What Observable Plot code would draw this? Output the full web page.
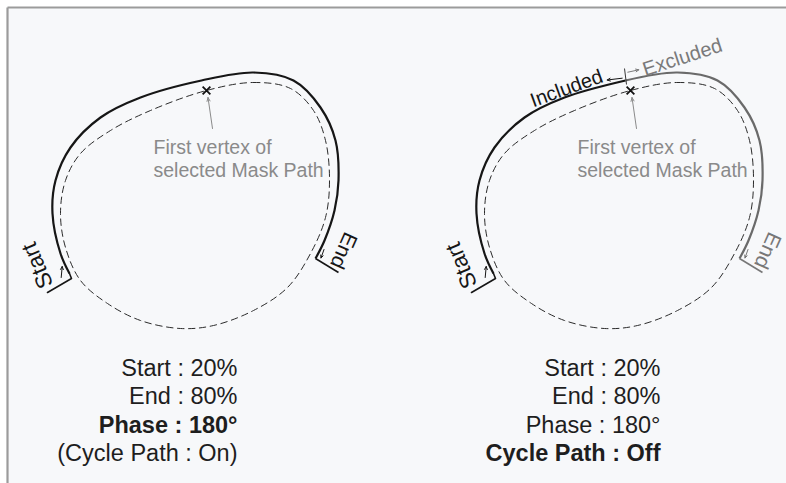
<!DOCTYPE html>
<html>
<head>
<meta charset="utf-8">
<script src="https://cdn.jsdelivr.net/npm/d3@7"></script>
<script src="https://cdn.jsdelivr.net/npm/@observablehq/plot@0.6"></script>
<style>
  html, body { margin: 0; padding: 0; background: #ffffff; overflow: hidden; }
</style>
</head>
<body>
<div id="chart"></div>
<script>
// ---- data (diagram coordinates, left panel; right panel is shifted) ----
const panelShift = [0, 424];

// dashed closed mask path
const maskX = [206, 253, 290, 313, 325, 329, 325, 310, 287, 253, 213, 180, 140, 107, 80, 65, 60, 65, 80, 110, 150];
const maskY = [90, 82, 88, 110, 140, 180, 217, 253, 287, 310, 325, 328, 320, 303, 280, 247, 213, 180, 153, 130, 110];

// solid open path from Start to End
const pathX = [69, 60, 52, 55, 70, 100, 140, 201, 253, 293, 320, 335, 338, 334, 324, 315];
const pathY = [273, 253, 213, 180, 147, 117, 97, 80, 72, 80, 107, 140, 180, 210, 240, 258];
const splitIndex = 7; // first vertex position on solid path (Included / Excluded)

// first vertex cross
const vertexX = [206];
const vertexY = [90];

// start / end brackets
const startBracketX = [69, 71, 47];
const startBracketY = [273, 278, 292];
const endBracketX = [315, 338];
const endBracketY = [258, 272];

// bottom settings
const settingsLeft = ["Start : 20%", "End : 80%", "Phase : 180°", "(Cycle Path : On)"];
const settingsRight = ["Start : 20%", "End : 80%", "Phase : 180°", "Cycle Path : Off"];
const boldLeft = [false, false, true, false];
const boldRight = [false, false, false, true];
const settingsBaseline = [375, 403, 432, 460];
const settingsRightEdge = [237, 660];

// included / excluded labels (right panel)
const incExcLabels = ["Included", "Excluded"];
const incExcX = [566, 682];
const incExcY = [88, 57];
const incExcRot = [-20, -18];

// ---- build tables ----
const mask = panelShift.flatMap((dx, p) => maskX.map((x, i) => ({x: x + dx, y: maskY[i], panel: p})));
const solid = [];
pathX.forEach((x, i) => solid.push({x, y: pathY[i], s: "L"}));
pathX.forEach((x, i) => { if (i <= splitIndex) solid.push({x: x + panelShift[1], y: pathY[i], s: "RI"}); });
pathX.forEach((x, i) => { if (i >= splitIndex) solid.push({x: x + panelShift[1], y: pathY[i], s: "RE"}); });
const solidColor = {L: "#161616", RI: "#161616", RE: "#6a6a6a"};

const crosses = panelShift.map(dx => ({x: vertexX[0] + dx, y: vertexY[0]}));
const pointer = panelShift.map(dx => ({x1: 212 + dx, y1: 128, x2: 207.5 + dx, y2: 97}));
const vertexText = panelShift.map(dx => ({x: 153 + dx, y: 137}));

const startBr = panelShift.flatMap((dx, p) => startBracketX.map((x, i) => ({x: x + dx, y: startBracketY[i], panel: p})));
const endBr = panelShift.map((dx, p) => ({x1: endBracketX[0] + dx, y1: endBracketY[0], x2: endBracketX[1] + dx, y2: endBracketY[1], c: p === 0 ? "#161616" : "#777"}));
const startArrows = panelShift.map(dx => ({x1: 60.7 + dx, y1: 277, x2: 61.7 + dx, y2: 266}));
const endArrows = panelShift.map((dx, p) => ({x1: 323.5 + dx, y1: 249, x2: 320.5 + dx, y2: 257.5, c: p === 0 ? "#161616" : "#777"}));
const startLabels = panelShift.map(dx => ({x: 37 + dx, y: 265, t: "Start"}));
const endLabels = panelShift.map((dx, p) => ({x: 343 + dx, y: 250, t: "End", c: p === 0 ? "#161616" : "#777"}));

const settings = [];
settingsLeft.forEach((t, i) => settings.push({t, x: settingsRightEdge[0], y: settingsBaseline[i], b: boldLeft[i]}));
settingsRight.forEach((t, i) => settings.push({t, x: settingsRightEdge[1], y: settingsBaseline[i], b: boldRight[i]}));

const incExc = incExcLabels.map((t, i) => ({t, x: incExcX[i], y: incExcY[i], r: incExcRot[i], c: i === 0 ? "#161616" : "#7a7a7a"}));
const splitTick = [{x1: 624, y1: 68, x2: 626, y2: 84}];
const incExcArrows = [
  {x1: 621.7, y1: 77.7, x2: 606.7, y2: 79.5, c: "#161616"},
  {x1: 627.3, y1: 71.7, x2: 638.3, y2: 69.3, c: "#7a7a7a"}
];

const frame = [{x1: 7, y1: 7, x2: 786, y2: 7}, {x1: 7, y1: 7, x2: 7, y2: 483}];

const font = "'Liberation Sans', Arial, Helvetica, sans-serif";

const chart = Plot.plot({
  width: 786,
  height: 483,
  margin: 0,
  x: {domain: [0, 786], range: [0, 786], axis: null},
  y: {domain: [0, 483], range: [0, 483], axis: null},
  style: {background: "#ffffff", fontFamily: font},
  marks: [
    Plot.rect([{x1: 8, x2: 786, y1: 8, y2: 483}], {x1: "x1", x2: "x2", y1: "y1", y2: "y2", fill: "#f7f8fa"}),
    Plot.link(frame, {x1: "x1", y1: "y1", x2: "x2", y2: "y2", stroke: "#9b9b9b", strokeWidth: 2.2}),
    // dashed mask path
    Plot.line(mask, {x: "x", y: "y", z: "panel", curve: "catmull-rom-closed", stroke: "#2a2a2a", strokeWidth: 1, strokeDasharray: "6.5,4.5"}),
    // solid path
    Plot.line(solid, {x: "x", y: "y", z: "s", curve: "catmull-rom", stroke: d => solidColor[d.s], strokeWidth: 2.2, strokeLinecap: "butt"}),
    // brackets
    Plot.line(startBr, {x: "x", y: "y", z: "panel", stroke: "#161616", strokeWidth: 1.6, curve: "linear"}),
    Plot.link(endBr, {x1: "x1", y1: "y1", x2: "x2", y2: "y2", stroke: "c", strokeWidth: 1.6}),
    Plot.arrow(startArrows, {x1: "x1", y1: "y1", x2: "x2", y2: "y2", stroke: "#161616", strokeWidth: 1, headLength: 5, headAngle: 50}),
    Plot.arrow(endArrows, {x1: "x1", y1: "y1", x2: "x2", y2: "y2", stroke: "c", strokeWidth: 1, headLength: 5, headAngle: 50}),
    Plot.text(startLabels, {x: "x", y: "y", text: "t", rotate: -113, fontSize: 22.5, fill: "#161616", textAnchor: "middle", lineAnchor: "middle"}),
    Plot.text(endLabels, {x: "x", y: "y", text: "t", rotate: 114, fontSize: 21, fill: "c", textAnchor: "middle", lineAnchor: "middle"}),
    // first vertex
    Plot.dot(crosses, {x: "x", y: "y", symbol: "times", r: 3.6, stroke: "#111", strokeWidth: 1.8}),
    Plot.arrow(pointer, {x1: "x1", y1: "y1", x2: "x2", y2: "y2", stroke: "#8a8a8a", strokeWidth: 1, headLength: 6, headAngle: 45}),
    Plot.text(vertexText, {x: "x", y: "y", text: () => "First vertex of\nselected Mask Path", fill: "#8a8a8a", fontSize: 19.5, textAnchor: "start", lineAnchor: "top", lineHeight: 1.18}),
    // included / excluded
    Plot.link(splitTick, {x1: "x1", y1: "y1", x2: "x2", y2: "y2", stroke: "#222", strokeWidth: 0.9}),
    Plot.arrow(incExcArrows, {x1: "x1", y1: "y1", x2: "x2", y2: "y2", stroke: "c", strokeWidth: 1, headLength: 5, headAngle: 50}),
    Plot.text(incExc, {x: "x", y: "y", text: "t", rotate: "r", fill: "c", fontSize: 20, textAnchor: "middle", lineAnchor: "middle"}),
    // settings text
    Plot.text(settings.filter(d => !d.b), {x: "x", y: d => d.y - 7.5, text: "t", fontSize: 23.5, fill: "#1e1e1e", textAnchor: "end", lineAnchor: "middle"}),
    Plot.text(settings.filter(d => d.b), {x: "x", y: d => d.y - 7.5, text: "t", fontSize: 23.5, fill: "#1e1e1e", fontWeight: "bold", textAnchor: "end", lineAnchor: "middle"})
  ]
});
document.getElementById("chart").appendChild(chart);
</script>
</body>
</html>
